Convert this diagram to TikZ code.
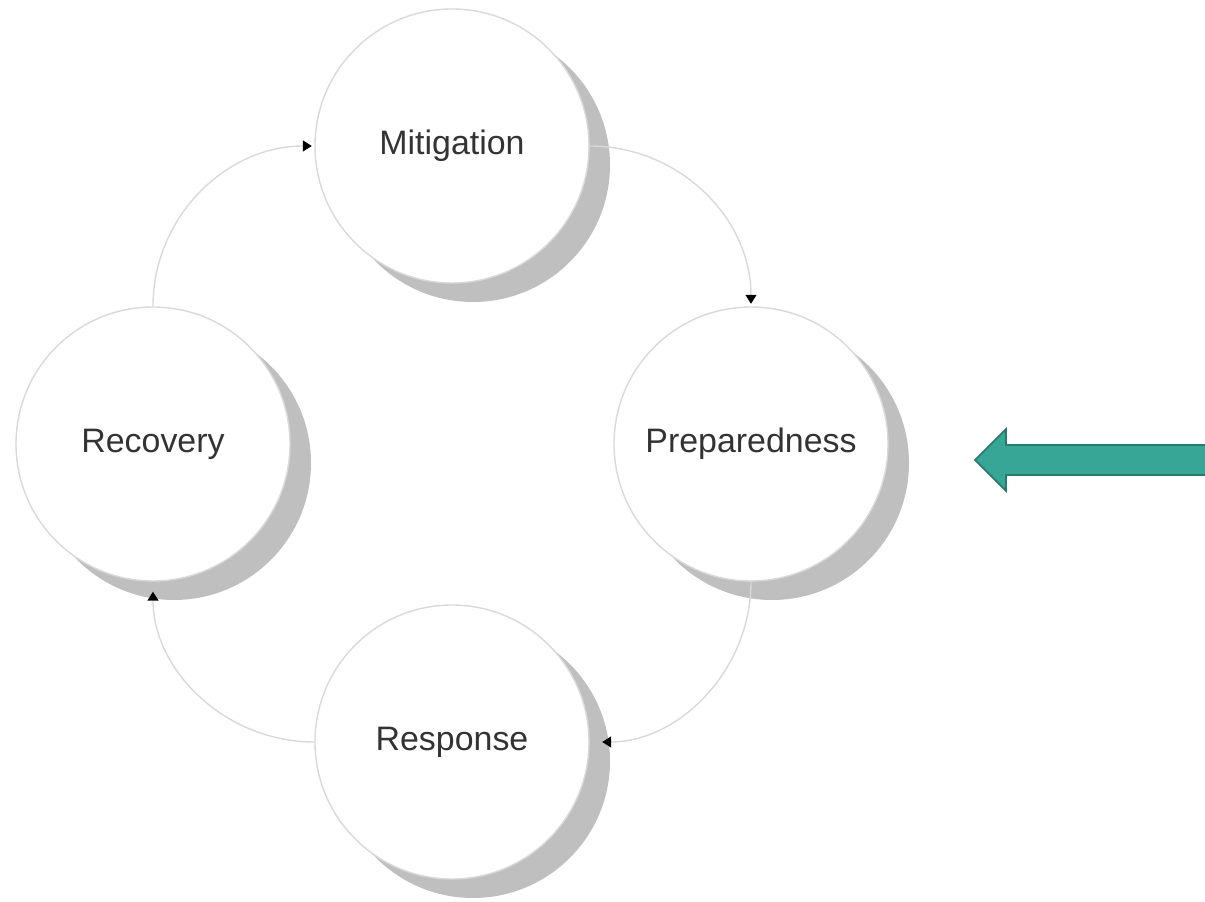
\documentclass[tikz,border=0pt]{standalone}
\usepackage{fontspec}
\setmainfont{Liberation Sans}
\usetikzlibrary{arrows.meta,shadows}

\definecolor{arrowfill}{RGB}{56,166,150}
\definecolor{arrowline}{RGB}{42,122,108}

\begin{document}
\begin{tikzpicture}[
    thin, % line style
    > = {Triangle[black,length=1.8mm,width=2.2mm]}, % arrow head style
    phase/.style = {circle, draw=black!15, line width=0.8pt, fill=white,
        minimum size=5.48cm, text=black!80,
        font=\fontsize{19.3}{23}\selectfont,
        drop shadow={shadow xshift=0.42cm, shadow yshift=-0.38cm,
            fill=black!25, opacity=1}},
    link/.style = {->, draw=black!15, line width=0.8pt},
]
\clip (0,0) rectangle (24.1,18.04);

\node[phase] (mit)  at (9.04,15.12) {Mitigation};
\node[phase] (prep) at (15.02,9.16) {Preparedness};
\node[phase] (resp) at (9.04,3.2)   {Response};
\node[phase] (rec)  at (3.06,9.16)  {Recovery};

\draw[link, shorten >=0.05cm] (mit.east) to[out=0,in=90] (prep.north);
\draw[link, shorten >=0.25cm] (prep.south) to[out=-90,in=0] (resp.east);
\draw[link, shorten >=0.2cm] (resp.west) to[out=180,in=-90] (rec.south);
\draw[link, shorten >=0.05cm] (rec.north) to[out=90,in=180] (mit.west);

% big arrow pointing at Preparedness
\filldraw[fill=arrowfill, draw=arrowline, line width=1pt]
    (19.5,8.84) -- (20.12,9.46) -- (20.12,9.14) -- (24.4,9.14)
    -- (24.4,8.54) -- (20.12,8.54) -- (20.12,8.22) -- cycle;
\end{tikzpicture}
\end{document}
